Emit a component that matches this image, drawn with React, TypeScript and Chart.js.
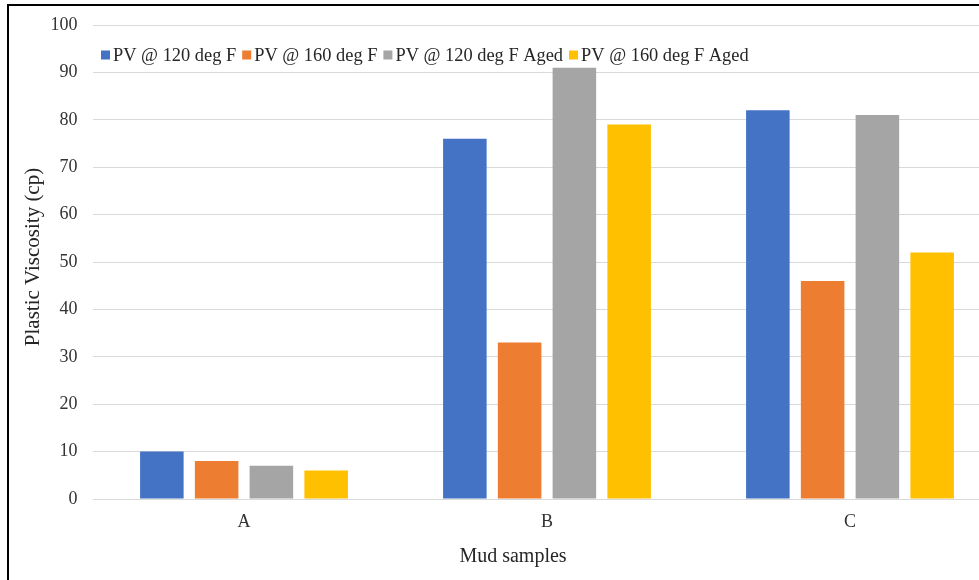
import React, { useEffect, useRef } from "react";
import { Chart, registerables } from "chart.js";

Chart.register(...registerables);

const categories = ["A", "B", "C"];
const seriesNames = ["PV @ 120 deg F", "PV @ 160 deg F", "PV @ 120 deg F Aged", "PV @ 160 deg F Aged"];
const pv120 = [10, 76, 82];
const pv160 = [8, 33, 46];
const pv120Aged = [7, 91, 81];
const pv160Aged = [6, 79, 52];
const seriesColors = ["#4472C4", "#ED7D31", "#A5A5A5", "#FFC000"];
const yTicksMin = 0;
const yTicksMax = 100;
const yTicksStep = 10;
const xAxisTitle = "Mud samples";
const yAxisTitle = "Plastic Viscosity (cp)";

const FONT = "'Liberation Serif', 'Times New Roman', serif";

const legendPlugin = {
  id: "innerLegend",
  afterDraw(chart: any) {
    const ctx = chart.ctx;
    ctx.save();
    // legend
    ctx.font = `18.4px ${FONT}`;
    ctx.textBaseline = "middle";
    ctx.textAlign = "left";
    let x = 92;
    const cy = 49;
    chart.data.datasets.forEach((ds: any) => {
      ctx.fillStyle = ds.backgroundColor;
      ctx.fillRect(x, cy - 4.5, 9, 9);
      x += 12;
      ctx.fillStyle = "#262626";
      ctx.fillText(ds.label, x, cy + 1);
      x += ctx.measureText(ds.label).width + 6;
    });
    // axis titles
    ctx.fillStyle = "#262626";
    ctx.textAlign = "center";
    ctx.font = `20px ${FONT}`;
    ctx.fillText(xAxisTitle, 504, 551);
    ctx.translate(24, 251);
    ctx.rotate(-Math.PI / 2);
    ctx.font = `21px ${FONT}`;
    ctx.fillText(yAxisTitle, 0, 0);
    ctx.restore();
  },
};

export default function App() {
  const ref = useRef<HTMLCanvasElement>(null);
  useEffect(() => {
    document.body.style.overflow = "hidden";
    const values = [pv120, pv160, pv120Aged, pv160Aged];
    const chart = new Chart(ref.current!, {
      type: "bar",
      data: {
        labels: categories,
        datasets: seriesNames.map((name, i) => ({
          label: name,
          data: values[i],
          backgroundColor: seriesColors[i],
          borderWidth: 0,
          categoryPercentage: 0.723,
          barPercentage: 0.795,
        })),
      },
      options: {
        animation: false,
        responsive: false,
        maintainAspectRatio: false,
        layout: { padding: { top: 19, right: 17.5, bottom: 0, left: 0 } },
        plugins: { legend: { display: false }, tooltip: { enabled: false } },
        scales: {
          x: {
            grid: { display: false, drawTicks: false },
            border: { display: false },
            ticks: { padding: 12, color: "#333333", font: { family: FONT, size: 18 } },
            afterFit: (s: any) => {
              s.height = 107;
            },
          },
          y: {
            min: yTicksMin,
            max: yTicksMax,
            grid: { color: "#d9d9d9", lineWidth: 1, drawTicks: false },
            border: { display: false },
            ticks: {
              stepSize: yTicksStep,
              padding: 15,
              color: "#333333",
              font: { family: FONT, size: 18 },
            },
            afterFit: (s: any) => {
              s.width = 83.5;
              s.paddingTop = 0;
              s.paddingBottom = 0;
            },
          },
        },
      },
      plugins: [legendPlugin],
    });
    return () => chart.destroy();
  }, []);
  return (
    <div
      style={{
        position: "absolute",
        left: 7,
        top: 4,
        width: 1010,
        height: 600,
        border: "2px solid #000",
        background: "#fff",
      }}
    >
      <canvas ref={ref} width={1010} height={600} style={{ display: "block", width: 1010, height: 600 }} />
    </div>
  );
}
